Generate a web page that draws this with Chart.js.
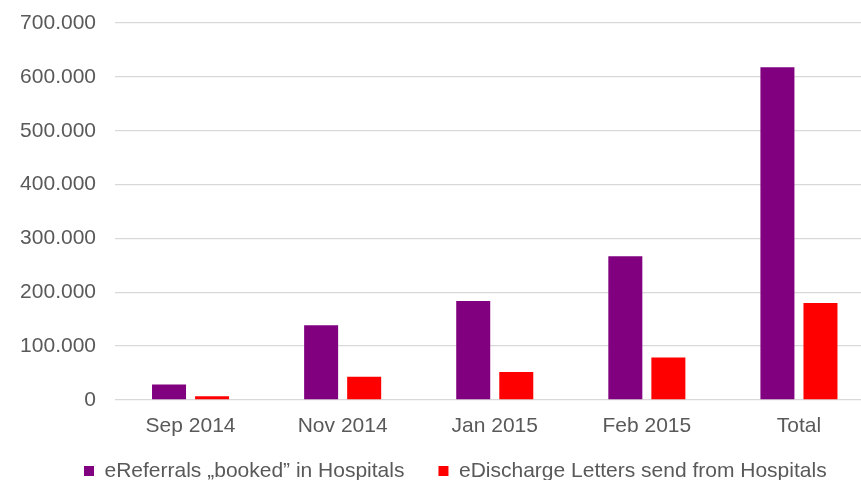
<!DOCTYPE html>
<html>
<head>
<meta charset="utf-8">
<script src="https://cdn.jsdelivr.net/npm/chart.js@4"></script>
<style>
  html, body { margin: 0; padding: 0; background: #fff; overflow: hidden; }
  #wrap { position: relative; width: 875px; height: 480px; }
</style>
</head>
<body>
<div id="wrap"><canvas id="c"></canvas></div>
<script>
const categories = ["Sep 2014", "Nov 2014", "Jan 2015", "Feb 2015", "Total"];
const seriesNames = ["eReferrals \u201Ebooked\u201D in Hospitals", "eDischarge Letters send from Hospitals"];
const eReferrals = [29000, 139000, 184000, 267000, 618000];
const eDischarge = [7000, 43000, 52000, 79000, 180000];
const yTicks = [0, 100000, 200000, 300000, 400000, 500000, 600000, 700000];

function fmt(v) {
  return String(Math.round(v)).replace(/\B(?=(\d{3})+(?!\d))/g, ".");
}

const FONT = "'Liberation Sans', Arial, sans-serif";
const TXT = "#595959";

const legendShift = {
  id: "legendShift",
  afterLayout(chart) {
    const l = chart.legend;
    if (!l) return;
    const dx = 50;
    l.left += dx; l.right += dx;
    l.top = 473 - 34 - 12.6;
    l.bottom = 480;
    l.height = l.bottom - l.top;
  }
};

new Chart(document.getElementById("c"), {
  type: "bar",
  data: {
    labels: categories,
    datasets: [
      { label: seriesNames[0], data: eReferrals, backgroundColor: "#800080", borderWidth: 0 },
      { label: seriesNames[1], data: eDischarge, backgroundColor: "#FF0000", borderWidth: 0 }
    ]
  },
  options: {
    responsive: true,
    maintainAspectRatio: false,
    animation: false,
    devicePixelRatio: 1,
    datasets: { bar: { categoryPercentage: 0.566, barPercentage: 0.79 } },
    layout: { padding: { top: 23, left: 0, right: 0, bottom: 0 } },
    plugins: {
      tooltip: { enabled: false },
      legend: {
        position: "bottom",
        align: "start",
        maxHeight: 40,
        labels: {
          boxWidth: 10, boxHeight: 10, padding: 34,
          color: TXT,
          font: { family: FONT, size: 21 }
        }
      }
    },
    scales: {
      x: {
        grid: { display: false, drawTicks: false },
        border: { display: false },
        ticks: { color: TXT, font: { family: FONT, size: 21 }, padding: 14, maxRotation: 0 },
        afterFit(s) { s.height = 40; }
      },
      y: {
        min: 0, max: 700000,
        afterBuildTicks(s) { s.ticks = yTicks.map(v => ({ value: v })); },
        grid: { color: "#d9d9d9", lineWidth: 1.3, drawTicks: true, tickLength: 18.5, tickColor: "rgba(0,0,0,0)" },
        border: { display: false },
        ticks: { color: TXT, font: { family: FONT, size: 21 }, padding: 0, callback: v => fmt(v) },
        afterFit(s) { s.width = 114.5; }
      }
    }
  },
  plugins: [legendShift]
});
</script>
</body>
</html>
